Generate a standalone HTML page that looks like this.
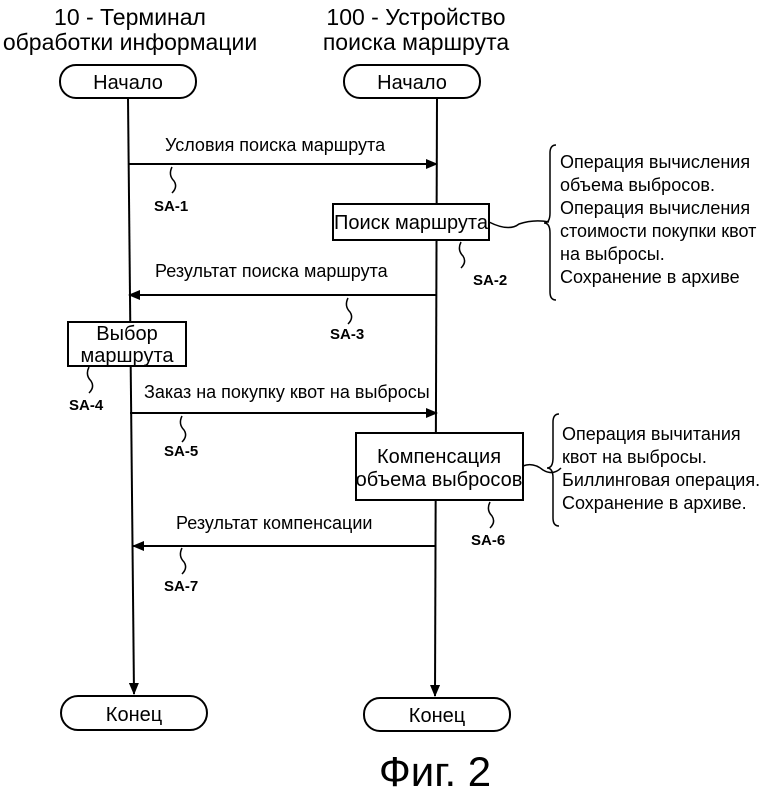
<!DOCTYPE html>
<html><head><meta charset="utf-8"><style>body{margin:0;background:#fff}</style></head><body>
<svg width="780" height="790" viewBox="0 0 780 790" xmlns="http://www.w3.org/2000/svg" font-family="Liberation Sans, sans-serif" fill="#000">
<defs><marker id="a" markerWidth="12" markerHeight="10" refX="11" refY="5" orient="auto" markerUnits="userSpaceOnUse"><path d="M0,0 L12,5 L0,10 Z"/></marker></defs>
<g font-size="23" text-anchor="middle">
<text x="130" y="25">10 - Терминал</text>
<text x="130" y="50">обработки информации</text>
<text x="416" y="25">100 - Устройство</text>
<text x="416" y="50">поиска маршрута</text>
</g>
<g stroke="#000" stroke-width="2" fill="none">
<rect x="60" y="65" width="136" height="33" rx="16"/>
<rect x="344" y="65" width="136" height="33" rx="16"/>
<rect x="61" y="696" width="146" height="34" rx="17"/>
<rect x="364" y="698" width="146" height="33" rx="16"/>
<line x1="128" y1="98" x2="134" y2="694" marker-end="url(#a)"/>
<line x1="437" y1="98" x2="435" y2="696" marker-end="url(#a)"/>
<line x1="128" y1="164" x2="437" y2="164" marker-end="url(#a)"/>
<line x1="437" y1="295" x2="129" y2="295" marker-end="url(#a)"/>
<line x1="130" y1="413" x2="437" y2="413" marker-end="url(#a)"/>
<line x1="436" y1="546" x2="133" y2="546" marker-end="url(#a)"/>
<rect x="333" y="204" width="156" height="36" fill="#fff"/>
<rect x="68" y="322" width="118" height="44" fill="#fff"/>
<rect x="356" y="433" width="167" height="67" fill="#fff"/>
<g stroke-width="1.5">
<path d="M172,167 q-4,8 2,14 q4,6 -2,12"/>
<path d="M461,242 q-4,8 2,14 q4,6 -2,12"/>
<path d="M348,298 q-4,8 2,14 q4,6 -2,12"/>
<path d="M89,367 q-4,8 2,14 q4,6 -2,12"/>
<path d="M182,416 q-4,8 2,14 q4,6 -2,12"/>
<path d="M490,502 q-4,8 2,14 q4,6 -2,12"/>
<path d="M182,548 q-4,8 2,14 q4,6 -2,12"/>
<path d="M489,222 q20,10 30,2 q15,-5 30,-2"/>
<path d="M556,145 q-6,0 -6,8 L550,213 q0,10 -6,10 q6,0 6,10 L550,292 q0,8 6,8"/>
<path d="M523,466 q10,-4 20,4 q10,6 18,-2"/>
<path d="M559,414 q-6,0 -6,8 L553,458 q0,10 -6,10 q6,0 6,10 L553,518 q0,8 6,8"/>
</g>
</g>
<g font-size="20" text-anchor="middle">
<text x="128" y="89">Начало</text>
<text x="412" y="89">Начало</text>
<text x="134" y="721">Конец</text>
<text x="437" y="722">Конец</text>
<text x="411" y="229">Поиск маршрута</text>
<text x="127" y="340">Выбор</text>
<text x="127" y="362">маршрута</text>
<text x="439" y="463">Компенсация</text>
<text x="439" y="486">объема выбросов</text>
</g>
<g font-size="18">
<text x="165" y="151">Условия поиска маршрута</text>
<text x="155" y="277">Результат поиска маршрута</text>
<text x="144" y="398">Заказ на покупку квот на выбросы</text>
<text x="176" y="529">Результат компенсации</text>
<text x="560" y="168">Операция вычисления</text>
<text x="560" y="191">объема выбросов.</text>
<text x="560" y="214">Операция вычисления</text>
<text x="560" y="237">стоимости покупки квот</text>
<text x="560" y="260">на выбросы.</text>
<text x="560" y="283">Сохранение в архиве</text>
<text x="562" y="440">Операция вычитания</text>
<text x="562" y="463">квот на выбросы.</text>
<text x="562" y="486">Биллинговая операция.</text>
<text x="562" y="509">Сохранение в архиве.</text>
</g>
<g font-size="15" font-weight="bold">
<text x="154" y="211">SA-1</text>
<text x="473" y="285">SA-2</text>
<text x="330" y="339">SA-3</text>
<text x="69" y="410">SA-4</text>
<text x="164" y="456">SA-5</text>
<text x="471" y="545">SA-6</text>
<text x="164" y="591">SA-7</text>
</g>
<text x="435" y="786" font-size="42" text-anchor="middle">Фиг. 2</text>
</svg>
</body></html>
